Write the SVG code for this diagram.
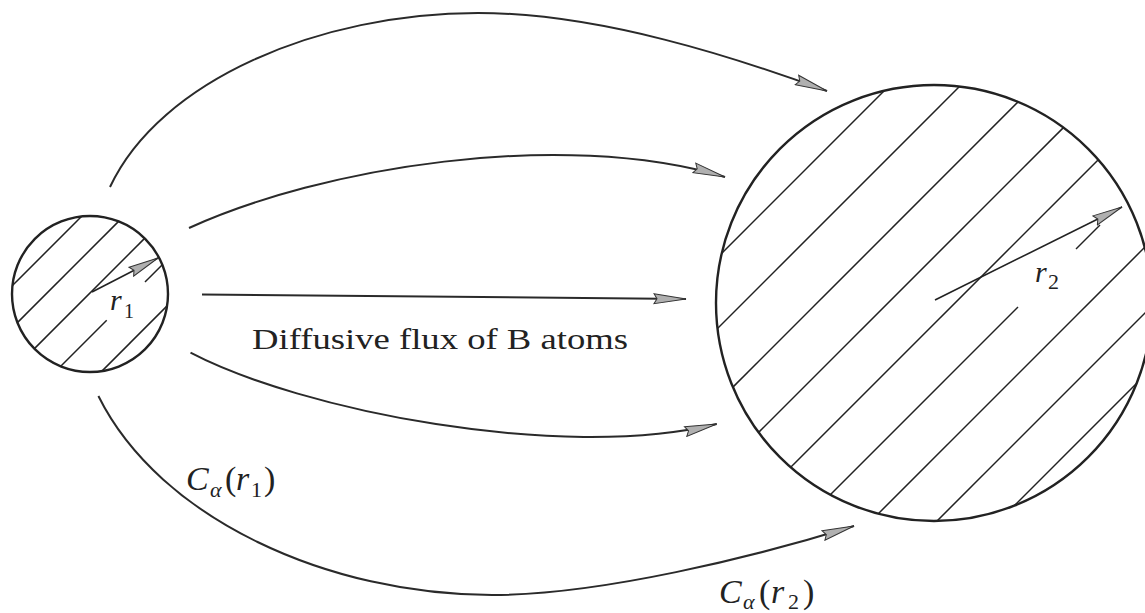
<svg xmlns="http://www.w3.org/2000/svg" width="1145" height="613" viewBox="0 0 1145 613">
<defs>
<style>
.circ{fill:none;stroke:#222;stroke-width:2.4}
.hatch{fill:none;stroke:#222;stroke-width:1.5}
.flux{fill:none;stroke:#2a2a2a;stroke-width:2;marker-end:url(#ah)}
.rad{fill:none;stroke:#222;stroke-width:1.6;marker-end:url(#ahs)}
.lbl{font-family:"Liberation Serif","Times New Roman",serif;fill:#222}
.it{font-style:italic}
</style>
<marker id="ah" markerUnits="userSpaceOnUse" viewBox="0 0 34 12" markerWidth="34" markerHeight="12" refX="33" refY="6" orient="auto">
<path d="M1,1 L33,6 L1,11 L4,6 Z" fill="#b0b0b0" stroke="#333" stroke-width="1"/>
</marker>
<marker id="ahs" markerUnits="userSpaceOnUse" viewBox="0 0 32 12" markerWidth="32" markerHeight="12" refX="31" refY="6" orient="auto">
<path d="M1,1 L31,6 L1,11 L4,6 Z" fill="#b0b0b0" stroke="#333" stroke-width="1"/>
</marker>
</defs>
<rect width="1145" height="613" fill="#fff"/>

<g id="small-precipitate">
<circle class="circ" cx="90" cy="294" r="78"/>
<line class="hatch" x1="12.5" y1="285.5" x2="81.5" y2="216.5"/>
<line class="hatch" x1="17.4" y1="322.6" x2="118.6" y2="221.4"/>
<line class="hatch" x1="34.4" y1="348.6" x2="144.6" y2="238.4"/>
<line class="hatch" x1="60.7" y1="366.3" x2="106.7" y2="320.3"/>
<line class="hatch" x1="145" y1="282" x2="162.3" y2="264.7"/>
<line class="hatch" x1="101.9" y1="371.1" x2="167.1" y2="305.9"/>
<line class="rad" x1="92" y1="292" x2="158" y2="258"/>
<text class="lbl" x="0" y="0"><tspan class="it" x="110" y="310" font-size="30">r</tspan><tspan x="124" y="318" font-size="20">1</tspan></text>
</g>

<g id="large-precipitate">
<circle class="circ" cx="934" cy="303" r="218"/>
<line class="hatch" x1="721.8" y1="253.2" x2="884.2" y2="90.8"/>
<line class="hatch" x1="717.5" y1="328.5" x2="959.5" y2="86.5"/>
<line class="hatch" x1="732.9" y1="387.1" x2="1018.1" y2="101.9"/>
<line class="hatch" x1="758.6" y1="432.4" x2="1063.4" y2="127.6"/>
<line class="hatch" x1="790.7" y1="467.3" x2="1098.3" y2="159.7"/>
<line class="hatch" x1="830.3" y1="494.7" x2="1018" y2="307"/>
<line class="hatch" x1="1076" y1="249" x2="1100" y2="225"/>
<line class="hatch" x1="878.3" y1="513.7" x2="1144.7" y2="247.3"/>
<line class="hatch" x1="937" y1="521" x2="1152" y2="306"/>
<line class="hatch" x1="1014.3" y1="505.7" x2="1136.7" y2="383.3"/>
<line class="rad" x1="935" y1="300" x2="1122" y2="207"/>
<text class="lbl" x="0" y="0"><tspan class="it" x="1035" y="282" font-size="30">r</tspan><tspan x="1048" y="289" font-size="22">2</tspan></text>
</g>

<g id="connectors">
<path class="flux" d="M110,187 C160,80 320,13 478,13 C600,13 737,58 827,91"/>
<path class="flux" d="M189,228 C320,168 560,128 725,177"/>
<path class="flux" d="M202,294.5 L686,299"/>
<path class="flux" d="M190.5,352.7 C300,410 560,462 716.7,424"/>
<path class="flux" d="M98.4,396 C160,520 330,595 492,595 C600,595 754,557 854,526"/>
</g>

<g id="labels">
<text class="lbl" x="252" y="349" font-size="30" textLength="376" lengthAdjust="spacingAndGlyphs">Diffusive flux of B atoms</text>
<text class="lbl" x="0" y="0"><tspan class="it" x="186" y="490" font-size="34">C</tspan><tspan class="it" x="210" y="497" font-size="22">α</tspan><tspan x="225" y="490" font-size="34">(</tspan><tspan class="it" x="236" y="490" font-size="34">r</tspan><tspan x="251" y="497" font-size="22">1</tspan><tspan x="264" y="490" font-size="34">)</tspan></text>
<text class="lbl" x="0" y="0"><tspan class="it" x="719" y="603" font-size="34">C</tspan><tspan class="it" x="743" y="609" font-size="22">α</tspan><tspan x="759" y="603" font-size="34">(</tspan><tspan class="it" x="771" y="603" font-size="34">r</tspan><tspan x="788" y="609" font-size="22">2</tspan><tspan x="803" y="603" font-size="34">)</tspan></text>
</g>
</svg>
